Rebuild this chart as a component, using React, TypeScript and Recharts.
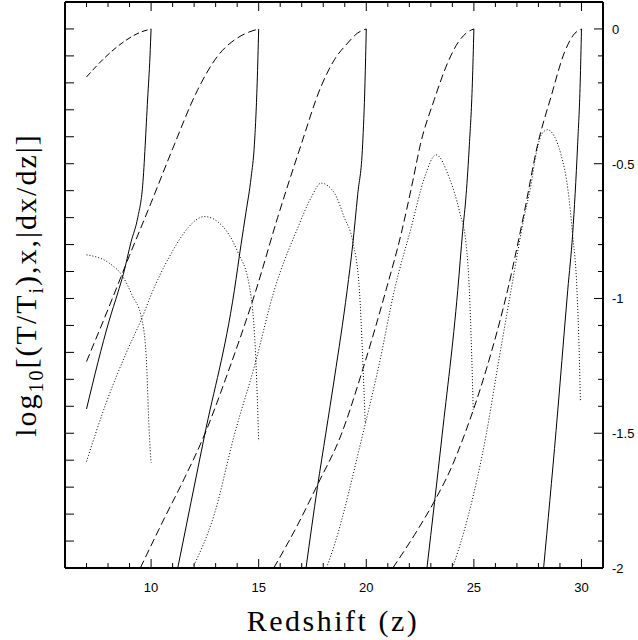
import React from 'react';
import { LineChart, Line, XAxis, YAxis, ReferenceLine } from 'recharts';

// [redshift, log10 value], one array per curve
const solid10 = [[7, -1.41], [8.06, -1.08], [8.45, -0.98], [8.71, -0.91], [9.07, -0.79], [9.38, -0.7], [9.61, -0.58], [9.84, -0.26], [9.95, -0.1], [10, 0]];
const solid15 = [[11.24, -2], [12.48, -1.51], [13.87, -0.97], [14.18, -0.8], [14.41, -0.68], [14.65, -0.55], [14.8, -0.43], [14.93, -0.2], [15, 0]];
const solid20 = [[17.2, -2], [17.73, -1.7], [18.12, -1.5], [18.52, -1.295], [19.11, -0.97], [19.37, -0.8], [19.6, -0.615], [19.83, -0.43], [19.94, -0.2], [20, 0]];
const solid25 = [[22.82, -2], [23.52, -1.51], [24.25, -0.97], [24.48, -0.75], [24.64, -0.615], [24.79, -0.43], [24.93, -0.2], [25, 0]];
const solid30 = [[28.24, -2], [28.82, -1.49], [29.36, -0.97], [29.59, -0.76], [29.82, -0.43], [29.94, -0.2], [30, 0]];

const dashed10 = [[7, -0.178], [7.83, -0.108], [8.76, -0.046], [9.54, -0.011], [10, 0]];
const dashed15 = [[7, -1.234], [8, -1.04], [9, -0.84], [10, -0.645], [11, -0.445], [12.17, -0.225], [13.1, -0.1], [14.02, -0.033], [14.6, -0.01], [15, 0]];
const dashed20 = [[9.5, -2], [10.62, -1.815], [11.55, -1.667], [12.48, -1.506], [13.56, -1.277], [14.88, -0.968], [15.88, -0.7], [16.97, -0.43], [17.9, -0.213], [18.52, -0.114], [19.14, -0.052], [19.6, -0.015], [20, 0]];
const dashed25 = [[15.7, -2], [16.81, -1.84], [17.74, -1.69], [18.83, -1.506], [19.83, -1.265], [20.92, -0.968], [21.62, -0.76], [22.16, -0.565], [22.51, -0.43], [23.16, -0.262], [23.78, -0.126], [24.25, -0.052], [24.65, -0.015], [25, 0]];
const dashed30 = [[21.23, -2], [22.24, -1.877], [23.16, -1.753], [23.94, -1.63], [24.56, -1.506], [25.57, -1.265], [26.57, -0.968], [27.35, -0.677], [27.96, -0.43], [28.59, -0.25], [29.2, -0.089], [29.6, -0.025], [30, 0]];

const dotted10 = [[7, -0.838], [8.06, -0.869], [8.68, -0.918], [9.15, -0.993], [9.54, -1.067], [9.77, -1.21], [9.92, -1.506], [10, -1.61]];
const dotted15 = [[7, -1.605], [7.91, -1.388], [8.84, -1.203], [9.54, -1.079], [10.1, -0.968], [11.08, -0.813], [11.7, -0.739], [12.48, -0.696], [13.25, -0.726], [14.02, -0.826], [14.57, -0.955], [14.88, -1.25], [15, -1.53]];
const dotted20 = [[11.93, -2], [12.94, -1.8], [13.87, -1.506], [14.8, -1.252], [15.73, -0.968], [16.81, -0.739], [17.43, -0.627], [17.9, -0.572], [18.52, -0.609], [18.98, -0.7], [19.37, -0.788], [19.68, -0.968], [19.83, -1.215], [19.95, -1.46]];
const dotted25 = [[18.15, -2], [18.52, -1.914], [19.83, -1.506], [20.61, -1.24], [21.31, -0.968], [22.08, -0.739], [22.7, -0.553], [23.24, -0.467], [23.86, -0.553], [24.33, -0.677], [24.64, -0.8], [24.79, -0.968], [24.9, -1.215], [24.97, -1.413]];
const dotted30 = [[24.01, -2], [24.71, -1.815], [25.57, -1.506], [26.11, -1.252], [26.73, -0.968], [27.33, -0.7], [27.64, -0.584], [27.9, -0.46], [28.15, -0.39], [28.43, -0.374], [28.74, -0.399], [29.05, -0.467], [29.36, -0.59], [29.59, -0.764], [29.79, -0.968], [29.9, -1.215], [29.95, -1.382]];

const xTicks = [7, 8, 9, 10, 11, 12, 13, 14, 15, 16, 17, 18, 19, 20, 21, 22, 23, 24, 25, 26, 27, 28, 29, 30];
const yTicks = [-2, -1.9, -1.8, -1.7, -1.6, -1.5, -1.4, -1.3, -1.2, -1.1, -1, -0.9, -0.8, -0.7, -0.6, -0.5, -0.4, -0.3, -0.2, -0.1, 0];

const solids = [solid10, solid15, solid20, solid25, solid30];
const dasheds = [dashed10, dashed15, dashed20, dashed25, dashed30];
const dotteds = [dotted10, dotted15, dotted20, dotted25, dotted30];

const W = 638;
const H = 640;
const PLOT_LEFT = 65;
const PLOT_RIGHT = 603;
const PLOT_TOP = 2;
const PLOT_BOTTOM = 568;

const toPts = (arr: number[][]) => arr.map(([z, v]) => ({ z, v }));

const tickFont = { fontFamily: '"Liberation Sans", Arial, sans-serif', fontSize: 13, fill: '#000' };

function XTick(props: any) {
  const { x, payload } = props;
  const major = payload.value % 5 === 0;
  const len = major ? 9 : 5;
  return (
    <g>
      <line x1={x} x2={x} y1={PLOT_BOTTOM} y2={PLOT_BOTTOM - len} stroke="#000" />
      <line x1={x} x2={x} y1={PLOT_TOP} y2={PLOT_TOP + len} stroke="#000" />
      {major && (
        <text x={x} y={PLOT_BOTTOM + 24} textAnchor="middle" {...tickFont}>
          {payload.value}
        </text>
      )}
    </g>
  );
}

function YTick(props: any) {
  const { y, payload } = props;
  const v = payload.value;
  const major = Math.abs(v * 2 - Math.round(v * 2)) < 1e-6;
  return (
    <g>
      <line x1={PLOT_RIGHT - (major ? 9 : 5)} x2={PLOT_RIGHT} y1={y} y2={y} stroke="#000" />
      <line x1={PLOT_LEFT} x2={PLOT_LEFT + 9} y1={y} y2={y} stroke="#000" />
      {major && (
        <text x={PLOT_RIGHT + 9} y={y + 5} textAnchor="start" {...tickFont}>
          {String(v)}
        </text>
      )}
    </g>
  );
}

export default function App() {
  const serif = '"Liberation Serif", serif';
  return (
    <div style={{ position: 'absolute', left: 0, top: 0, width: W, height: H, background: '#fff' }}>
      <LineChart width={W} height={H} margin={{ top: PLOT_TOP, left: PLOT_LEFT, right: 0, bottom: 42 }}>
        <XAxis
          dataKey="z"
          type="number"
          domain={[6, 31]}
          allowDataOverflow
          ticks={xTicks}
          interval={0}
          height={30}
          tickLine={false}
          tick={<XTick />}
          axisLine={{ stroke: '#000', strokeWidth: 2 }}
        />
        <YAxis
          orientation="right"
          type="number"
          domain={[-2, 0.1]}
          allowDataOverflow
          ticks={yTicks}
          interval={0}
          width={35}
          tickLine={false}
          tick={<YTick />}
          axisLine={{ stroke: '#000', strokeWidth: 2 }}
        />
        <ReferenceLine y={0.1} stroke="#000" strokeWidth={2} />
        <ReferenceLine x={6} stroke="#000" strokeWidth={2} />
        {solids.map((s, i) => (
          <Line key={'s' + i} data={toPts(s)} dataKey="v" type="monotone" stroke="#000" strokeWidth={1} dot={false} isAnimationActive={false} />
        ))}
        {dasheds.map((s, i) => (
          <Line key={'d' + i} data={toPts(s)} dataKey="v" type="monotone" stroke="#000" strokeWidth={1} strokeDasharray={i === 0 ? '6 3' : '8 4'} dot={false} isAnimationActive={false} />
        ))}
        {dotteds.map((s, i) => (
          <Line key={'o' + i} data={toPts(s)} dataKey="v" type="monotone" stroke="#000" strokeWidth={1} strokeDasharray="1 2" dot={false} isAnimationActive={false} />
        ))}
        <text x={333} y={631} textAnchor="middle" fontFamily={serif} fontSize={30} letterSpacing={2.5} fill="#000">
          Redshift (z)
        </text>
        <text transform="translate(36,285) rotate(-90)" textAnchor="middle" fontFamily={serif} fontSize={30} letterSpacing={2} fill="#000">
          log<tspan dy={7} fontSize={20}>10</tspan>
          <tspan dy={-7}>[(T/T</tspan>
          <tspan dy={7} fontSize={20}>i</tspan>
          <tspan dy={-7}>),x,|dx/dz|]</tspan>
        </text>
      </LineChart>
    </div>
  );
}
